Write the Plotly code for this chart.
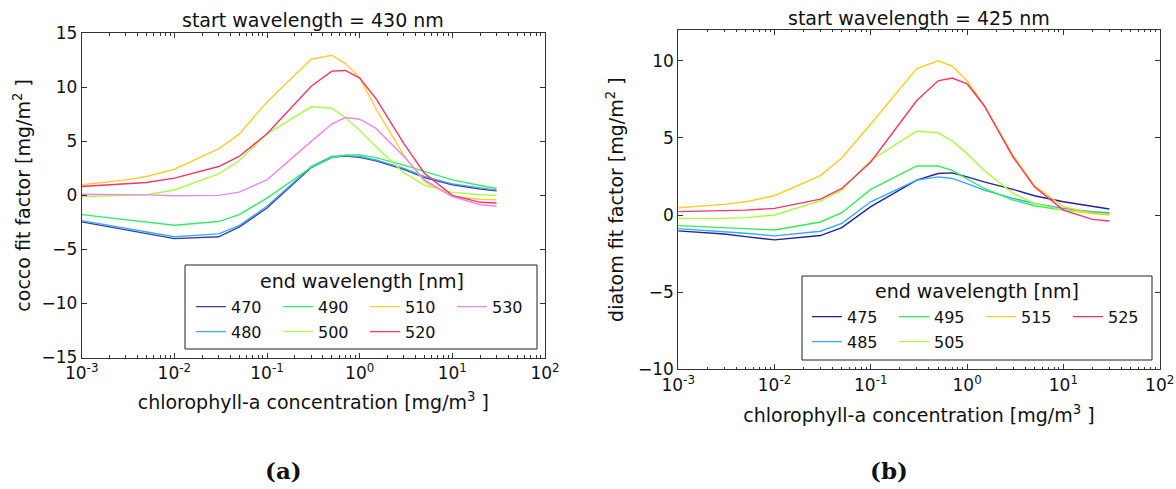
import plotly.graph_objects as go

# ---------------- data ----------------
chl = [0.001, 0.003, 0.005, 0.01, 0.03, 0.05, 0.1, 0.3, 0.5, 0.7, 1, 1.5, 3, 5, 10, 20, 30]

cocco_labels = ["470", "480", "490", "500", "510", "520", "530"]
cocco_470 = [-2.45, -3.19, -3.53, -4.0, -3.83, -2.94, -1.17, 2.58, 3.53, 3.65, 3.53, 3.19, 2.42, 1.66, 0.98, 0.58, 0.43]
cocco_480 = [-2.33, -3.05, -3.38, -3.83, -3.56, -2.79, -1.0, 2.67, 3.6, 3.68, 3.6, 3.28, 2.5, 1.75, 1.07, 0.67, 0.49]
cocco_490 = [-1.78, -2.25, -2.46, -2.76, -2.42, -1.78, -0.25, 2.6, 3.5, 3.74, 3.74, 3.5, 2.8, 2.2, 1.44, 0.92, 0.64]
cocco_500 = [-0.1, -0.03, 0.06, 0.5, 2.0, 3.2, 5.7, 8.2, 8.07, 7.2, 6.0, 4.5, 2.1, 0.95, 0.28, 0.06, 0.0]
cocco_510 = [0.98, 1.44, 1.75, 2.42, 4.3, 5.67, 8.65, 12.6, 12.97, 12.2, 10.9, 8.0, 3.7, 1.3, -0.1, -0.35, -0.4]
cocco_520 = [0.83, 1.07, 1.2, 1.6, 2.67, 3.6, 5.7, 10.1, 11.5, 11.56, 10.86, 8.96, 4.8, 2.05, 0.0, -0.64, -0.7]
cocco_530 = [0.1, 0.08, 0.05, -0.03, 0.0, 0.3, 1.44, 5.0, 6.6, 7.2, 7.05, 6.2, 3.6, 1.44, -0.1, -0.86, -1.0]

diatom_labels = ["475", "485", "495", "505", "515", "525"]
diatom_475 = [-1.03, -1.23, -1.4, -1.61, -1.33, -0.82, 0.54, 2.26, 2.69, 2.73, 2.47, 2.15, 1.66, 1.25, 0.86, 0.54, 0.39]
diatom_485 = [-0.88, -1.08, -1.18, -1.35, -1.05, -0.54, 0.86, 2.26, 2.47, 2.37, 2.04, 1.61, 1.08, 0.75, 0.43, 0.22, 0.15]
diatom_495 = [-0.69, -0.8, -0.88, -0.97, -0.45, 0.15, 1.66, 3.18, 3.18, 2.9, 2.37, 1.72, 0.97, 0.6, 0.32, 0.15, 0.09]
diatom_505 = [-0.22, -0.22, -0.17, 0.0, 0.92, 1.61, 3.55, 5.44, 5.33, 4.8, 3.98, 2.9, 1.4, 0.75, 0.32, 0.1, 0.04]
diatom_515 = [0.47, 0.69, 0.86, 1.25, 2.56, 3.7, 5.9, 9.5, 10.0, 9.66, 8.7, 7.1, 3.87, 1.9, 0.54, 0.1, 0.0]
diatom_525 = [0.22, 0.28, 0.32, 0.43, 1.03, 1.72, 3.44, 7.42, 8.7, 8.88, 8.5, 7.1, 3.76, 1.83, 0.32, -0.28, -0.39]

x_tickvals = [0.001, 0.01, 0.1, 1, 10, 100]
x_ticktext = ["10<sup>-3</sup>", "10<sup>-2</sup>", "10<sup>-1</sup>", "10<sup>0</sup>", "10<sup>1</sup>", "10<sup>2</sup>"]

cocco_colors = ["#3d3d9e", "#3fa9f5", "#33ee66", "#aaff44", "#ffcc33", "#ff3366", "#ee88ee"]
diatom_colors = ["#22229a", "#33aaff", "#33ee55", "#aaff33", "#ffcc22", "#ff3366"]

cocco_series = [cocco_470, cocco_480, cocco_490, cocco_500, cocco_510, cocco_520, cocco_530]
diatom_series = [diatom_475, diatom_485, diatom_495, diatom_505, diatom_515, diatom_525]

# legend rows (matplotlib fills legend columns top to bottom)
cocco_row1 = ["470", "490", "510", "530"]
diatom_row1 = ["475", "495", "515", "525"]

# ---------------- figure ----------------
W, H = 1176, 489
FONT = "DejaVu Sans"


def px(x):
    return x / W


def py(y):
    return 1 - y / H


fig = go.Figure()

for lab, ys, col in zip(cocco_labels, cocco_series, cocco_colors):
    fig.add_trace(go.Scatter(x=chl, y=ys, mode="lines", name=lab,
                             line=dict(color=col, width=1.4),
                             xaxis="x", yaxis="y",
                             legend="legend" if lab in cocco_row1 else "legend2"))

for lab, ys, col in zip(diatom_labels, diatom_series, diatom_colors):
    fig.add_trace(go.Scatter(x=chl, y=ys, mode="lines", name=lab,
                             line=dict(color=col, width=1.4),
                             xaxis="x2", yaxis="y2",
                             legend="legend3" if lab in diatom_row1 else "legend4"))

axis_common = dict(showline=True, linecolor="#333", linewidth=1, mirror="allticks",
                   ticks="inside", ticklen=5, tickcolor="#333", showgrid=False,
                   zeroline=False, automargin=False,
                   tickfont=dict(size=17, family=FONT, color="#111"))

xtitle = "chlorophyll-a concentration [mg/m<sup>3</sup> ]"
xlog = dict(axis_common, type="log", range=[-3, 2], tickvals=x_tickvals, ticktext=x_ticktext,
            minor=dict(ticks="inside", ticklen=2.5, tickcolor="#333", dtick="D1", showgrid=False))
title_font = dict(size=19, family=FONT, color="#111")

fig.update_layout(
    template="none",
    width=W, height=H, margin=dict(l=0, r=0, t=0, b=0, autoexpand=False),
    paper_bgcolor="white", plot_bgcolor="white",
    font=dict(family=FONT, size=17, color="#111"),
    xaxis=dict(xlog, domain=[px(81.7), px(545)], anchor="y",
               title=dict(text=xtitle, font=title_font, standoff=13)),
    yaxis=dict(axis_common, domain=[py(357.5), py(33.3)], anchor="x", range=[-15, 15], dtick=5,
               title=dict(text="cocco fit factor [mg/m<sup>2</sup> ]", font=title_font, standoff=5.5)),
    xaxis2=dict(xlog, domain=[px(678.2), px(1159.7)], anchor="y2",
                title=dict(text=xtitle, font=title_font, standoff=14)),
    yaxis2=dict(axis_common, domain=[py(369.3), py(29.9)], anchor="x2", range=[-10, 12],
                tickvals=[-10, -5, 0, 5, 10],
                title=dict(text="diatom fit factor [mg/m<sup>2</sup> ]", font=title_font, standoff=8.5)),
)

leg_common = dict(orientation="h", xanchor="left", yanchor="middle", entrywidth=42,
                  itemwidth=30, font=dict(size=16, family=FONT, color="#111"),
                  bgcolor="rgba(0,0,0,0)", borderwidth=0, tracegroupgap=0)
fig.update_layout(
    legend=dict(leg_common, x=px(191), y=py(306.7)),
    legend2=dict(leg_common, x=px(191), y=py(331.7)),
    legend3=dict(leg_common, x=px(807), y=py(316.7)),
    legend4=dict(leg_common, x=px(807), y=py(341.7)),
)

# legend frames
fig.add_shape(type="rect", xref="paper", yref="paper", x0=px(185), x1=px(537), y0=py(349), y1=py(265),
              line=dict(color="#222", width=1), fillcolor="rgba(0,0,0,0)", layer="above")
fig.add_shape(type="rect", xref="paper", yref="paper", x0=px(802), x1=px(1152), y0=py(360), y1=py(276),
              line=dict(color="#222", width=1), fillcolor="rgba(0,0,0,0)", layer="above")

ann_font = dict(size=19, family=FONT, color="#111")
annotations = [
    dict(text="start wavelength = 430 nm", x=px(313), y=py(20)),
    dict(text="start wavelength = 425 nm", x=px(919), y=py(18)),
    dict(text="end wavelength [nm]", x=px(361.7), y=py(280.7)),
    dict(text="end wavelength [nm]", x=px(976.7), y=py(290.7)),
]
for a in annotations:
    fig.add_annotation(xref="paper", yref="paper", xanchor="center", yanchor="middle",
                       showarrow=False, font=ann_font, **a)

cap_font = dict(size=23, family="DejaVu Serif", color="#111")
fig.add_annotation(text="<b>(a)</b>", x=px(283), y=py(470), xref="paper", yref="paper",
                   showarrow=False, xanchor="center", yanchor="middle", font=cap_font)
fig.add_annotation(text="<b>(b)</b>", x=px(889), y=py(470), xref="paper", yref="paper",
                   showarrow=False, xanchor="center", yanchor="middle", font=cap_font)

fig.write_html("out.html", config={"displayModeBar": False},
               post_script="document.body.style.margin='0';document.body.style.overflow='hidden';")
